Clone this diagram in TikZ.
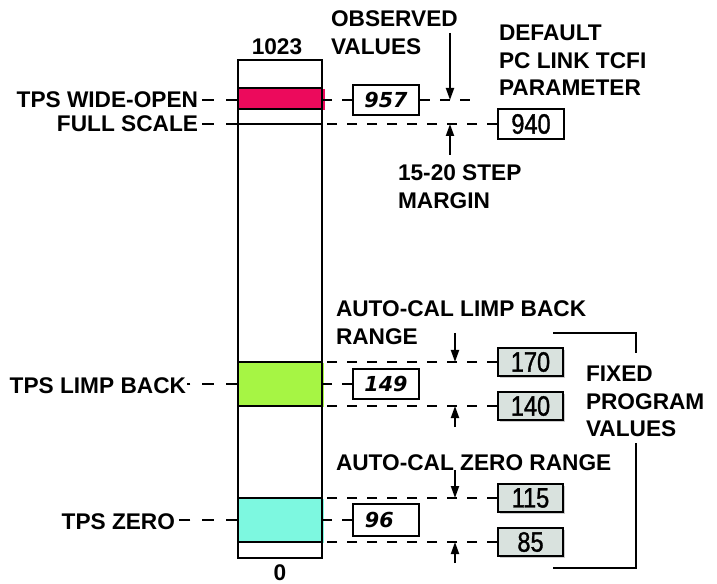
\documentclass[tikz,border=0pt]{standalone}
\usepackage{fontspec}
\setmainfont{Liberation Sans}
\newfontfamily\obsfont{DejaVu Sans}
\newfontfamily\numfont{Liberation Sans}[FakeStretch=0.84,FakeBold=1.2]
\usetikzlibrary{arrows.meta,shadows}
\definecolor{wobred}{HTML}{EC0A5C}
\definecolor{limpgreen}{HTML}{A6F544}
\definecolor{zerocyan}{HTML}{7DF8E0}
\definecolor{fixgray}{HTML}{D9E2DE}
\begin{document}
\begin{tikzpicture}[x=0.75pt,y=-0.75pt, line width=1.5pt,
 lbl/.style={font=\bfseries\fontsize{17}{20.6}\selectfont, inner sep=0pt, align=left},
 lead/.style={dash pattern=on 7.5pt off 7.5pt, line width=1.4pt},
 leftlead/.style={dash pattern=on 8.5pt off 9pt, line width=1.4pt},
 obsbox/.style={draw, fill=white, minimum width=49.5pt, minimum height=22.5pt, inner sep=0pt, font=\obsfont\bfseries\itshape\fontsize{15.5}{15.5}\selectfont},
 defbox/.style={draw, fill=white, minimum width=49.5pt, minimum height=22.5pt, inner sep=0pt, font=\numfont\fontsize{21}{21}\selectfont},
 fixbox/.style={draw, fill=fixgray, minimum width=48.75pt, minimum height=21pt, inner sep=0pt, font=\numfont\fontsize{21}{21}\selectfont, drop shadow={shadow xshift=1.5pt, shadow yshift=-1.5pt, fill=black!40, opacity=0.5}},
 arr/.style={-{Triangle[length=9pt,width=6pt]}, line width=1.4pt}]
\useasboundingbox (0,0) rectangle (717,584);

% colour bands
\fill[wobred] (239,89) rectangle (325,110);
\fill[limpgreen] (239,363) rectangle (324,407);
\fill[zerocyan] (239,499) rectangle (324,543);

% the scale bar
\node[draw, minimum width=63pt, minimum height=373.5pt, inner sep=0pt] (bar) at (280,309) {};
\node[lbl, anchor=base] (top) at (277,55) {1023};
\node[lbl, anchor=base] (bot) at (280,580) {0};

% level coordinates
\coordinate (y88) at (0,88);
\coordinate (y100) at (0,100);
\coordinate (y109) at (0,109);
\coordinate (y124) at (0,124);
\coordinate (y362) at (0,362);
\coordinate (y384) at (0,384);
\coordinate (y406) at (0,406);
\coordinate (y498) at (0,498);
\coordinate (y520) at (0,520);
\coordinate (y542) at (0,542);

% lines across the bar
\foreach \l in {y88,y109,y362,y406,y498,y542}
  \draw (bar.west |- \l) -- (bar.east |- \l);
\draw (bar.west |- y124) -- (bar.east |- y124);

% left labels
\node[lbl, anchor=base east] (wide) at (199,108) {TPS WIDE-OPEN};
\node[lbl, anchor=base east] (full) at (199,132) {FULL SCALE};
\node[lbl, anchor=base east] (limpl) at (187,393) {TPS LIMP BACK};
\node[lbl, anchor=base east] (zerol) at (176,529) {TPS ZERO};

\draw[leftlead] (bar.west |- y100) -- ([xshift=2pt]wide.east |- y100);
\draw[leftlead] (bar.west |- y124) -- ([xshift=2pt]full.east |- y124);
\draw[leftlead] (bar.west |- y384) -- (limpl.east |- y384);
\draw[leftlead] (bar.west |- y520) -- ([xshift=2pt]zerol.east |- y520);

% boxes
\node[obsbox] (o957) at (386,100) {957};
\node[defbox] (d940) at (531,124) {940};
\node[fixbox] (f170) at (530.5,362) {170};
\node[obsbox] (o149) at (386,384) {149};
\node[fixbox] (f140) at (530.5,406) {140};
\node[fixbox] (f115) at (530.5,498) {115};
\node[obsbox, minimum height=24pt] (o96) at (386,520) {96\hspace*{10pt}};
\node[fixbox] (f85) at (530.5,542) {85};

% right leaders
\coordinate (obsend) at (477,100);
\draw[lead] (o957.west) -- (bar.east |- o957.west);
\draw[lead] (o957.east) -- (obsend);
\draw[lead] (d940.west) -- (bar.east |- d940.west);
\draw[lead] (f170.west) -- (bar.east |- f170.west);
\draw[lead] (o149.west) -- (bar.east |- o149.west);
\draw[lead] (f140.west) -- (bar.east |- f140.west);
\draw[lead] (f115.west) -- (bar.east |- f115.west);
\draw[lead] (o96.west) -- (bar.east |- o96.west);
\draw[lead] (f85.west) -- (bar.east |- f85.west);

% texts
\node[lbl, anchor=north west] (obs) at (330,10) {OBSERVED\\VALUES};
\node[lbl, anchor=north west] (dflt) at (498,24) {DEFAULT\\PC LINK TCFI\\PARAMETER};
\node[lbl, anchor=north west] (marg) at (397,164) {15-20 STEP\\MARGIN};
\node[lbl, anchor=north west] (aclb) at (335,300) {AUTO-CAL LIMP BACK\\RANGE};
\node[lbl, anchor=base west] (acz) at (335,470) {AUTO-CAL ZERO RANGE};
\node[lbl, anchor=north west] (fixed) at (585,365) {FIXED\\PROGRAM\\VALUES};

% arrows
\coordinate (a1) at (450,33);
\coordinate (a2) at (450,155);
\coordinate (a3) at (455,333);
\coordinate (a4) at (455,427);
\coordinate (a5) at (455,470);
\coordinate (a6) at (455,563);
\draw[arr] (a1) -- (a1 |- o957.center);
\draw[arr] (a2) -- (a2 |- d940.center);
\draw[arr] (a3) -- (a3 |- f170.center);
\draw[arr] (a4) -- (a4 |- f140.center);
\draw[arr] (a5) -- (a5 |- f115.center);
\draw[arr] (a6) -- (a6 |- f85.center);

% bracket
\coordinate (bk1) at (553,333);
\coordinate (bk2) at (636,333);
\coordinate (bk3) at (636,353);
\coordinate (bk4) at (636,443);
\coordinate (bk5) at (636,568);
\coordinate (bk6) at (553,568);
\draw (bk1) -- (bk2) -- (bk3);
\draw (bk4) -- (bk5) -- (bk6);
\end{tikzpicture}
\end{document}
